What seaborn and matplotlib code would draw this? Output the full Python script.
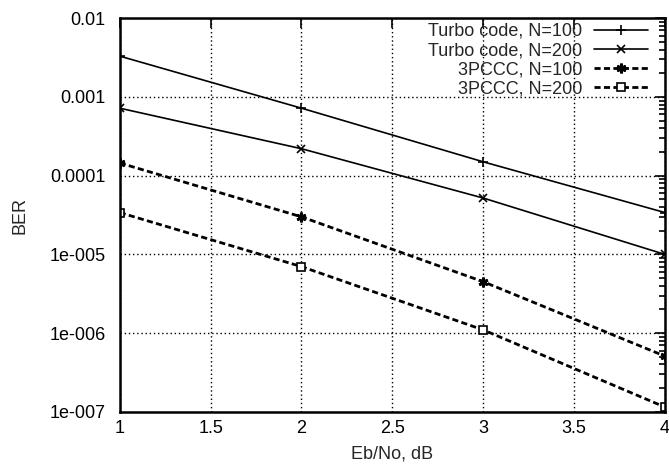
import numpy as np
import pandas as pd
import matplotlib
matplotlib.use("Agg")
import matplotlib.pyplot as plt
import seaborn as sns
from matplotlib.ticker import LogLocator, FixedLocator, FixedFormatter, NullFormatter

ebno = [1, 2, 3, 4]
turbo_100 = [3.3e-3, 7.2e-4, 1.5e-4, 3.4e-5]
turbo_200 = [7.2e-4, 2.2e-4, 5.2e-5, 1.0e-5]
pccc_100 = [1.45e-4, 3.0e-5, 4.5e-6, 5.1e-7]
pccc_200 = [3.4e-5, 7.0e-6, 1.1e-6, 1.15e-7]
labels = ["Turbo code, N=100", "Turbo code, N=200", "3PCCC, N=100", "3PCCC, N=200"]
x_ticks = [1, 1.5, 2, 2.5, 3, 3.5, 4]
x_ticklabels = ["1", "1.5", "2", "2.5", "3", "3.5", "4"]
y_ticks = [1e-7, 1e-6, 1e-5, 1e-4, 1e-3, 1e-2]
y_ticklabels = ["1e-007", "1e-006", "1e-005", "0.0001", "0.001", "0.01"]

sns.set_style("white")
plt.rcParams["font.family"] = ["Liberation Sans", "DejaVu Sans"]

fs = 13
fig = plt.figure(figsize=(6.69, 4.67), dpi=100)
ax = fig.add_axes([0.179, 0.118, 0.815, 0.843])

series = [turbo_100, turbo_200, pccc_100, pccc_200]
styles = [
    dict(marker="+", linestyle="-", lw=1.2, ms=7, mew=1.2, mfc="black"),
    dict(marker="x", linestyle="-", lw=1.2, ms=5.5, mew=1.2, mfc="black"),
    dict(marker=(6, 2, 0), linestyle=(0, (2.2, 1.2)), lw=2.0, ms=7, mew=2.0, mfc="black"),
    dict(marker="s", linestyle=(0, (2.2, 1.2)), lw=2.0, ms=5.5, mew=1.2, mfc="white"),
]
for vals, lab, st in zip(series, labels, styles):
    df = pd.DataFrame({"x": ebno, "y": vals})
    sns.lineplot(data=df, x="x", y="y", ax=ax, color="black", label=lab,
                 marker=st["marker"], linestyle=st["linestyle"], linewidth=st["lw"],
                 markersize=st["ms"], markeredgewidth=st["mew"],
                 markerfacecolor=st["mfc"], markeredgecolor="black")

ax.set_yscale("log")
ax.set_xlim(1, 4)
ax.set_ylim(1e-7, 1e-2)
ax.xaxis.set_major_locator(FixedLocator(x_ticks))
ax.xaxis.set_major_formatter(FixedFormatter(x_ticklabels))
ax.yaxis.set_major_locator(FixedLocator(y_ticks))
ax.yaxis.set_major_formatter(FixedFormatter(y_ticklabels))
ax.yaxis.set_minor_locator(LogLocator(base=10, subs=np.arange(2, 10), numticks=20))
ax.yaxis.set_minor_formatter(NullFormatter())

ax.grid(True, which="major", color="black", linestyle=(0, (1, 2)), linewidth=1.0)
ax.tick_params(which="both", direction="in", top=True, right=True, colors="black",
               labelsize=fs, width=1.2)
ax.tick_params(which="major", length=7)
ax.tick_params(axis="y", which="major", pad=10)
ax.tick_params(axis="x", which="major", pad=6)
ax.tick_params(which="minor", length=4)
for sp in ax.spines.values():
    sp.set_color("black")
    sp.set_linewidth(1.8)

ax.set_xlabel("Eb/No, dB", fontsize=fs)
ax.set_ylabel("BER", fontsize=fs)
ax.yaxis.set_label_coords(-0.168, 0.5)
ax.xaxis.set_label_coords(0.5, -0.085)

leg = ax.legend(loc="upper right", bbox_to_anchor=(0.969, 0.988), markerfirst=False,
                frameon=False, fontsize=fs, handlelength=3.0, labelspacing=0.12,
                borderaxespad=0, borderpad=0, handletextpad=0.65)
fig.savefig("out.png", dpi=100)
